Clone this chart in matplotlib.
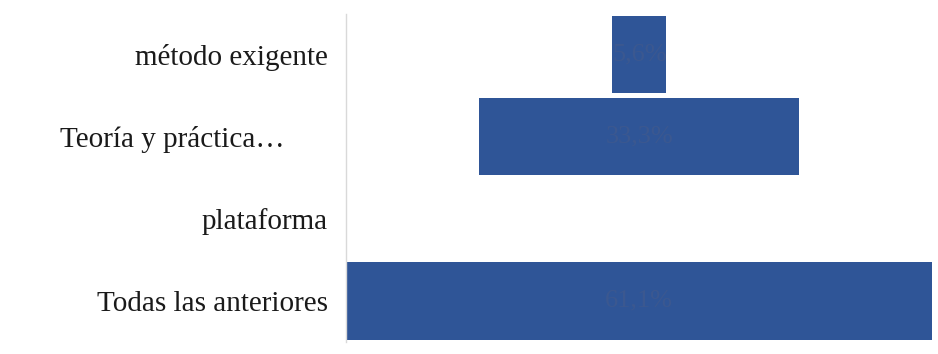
import matplotlib
matplotlib.use("Agg")
import matplotlib.pyplot as plt

categories = ["Todas las anteriores", "plataforma", "Teoría y práctica…      ", "método exigente"]
values = [61.1, 0.0, 33.3, 5.6]
labels = ["61,1%", "", "33,3%", "5,6%"]

bar_color = "#2F5597"
label_color = "#3b5890"

fig = plt.figure(figsize=(9.38, 3.54), dpi=100)
ax = fig.add_axes([0.369, 0.034, 0.625, 0.927])

y = range(len(categories))
lefts = [-v / 2 for v in values]
ax.barh(y, values, left=lefts, height=0.94, color=bar_color)
for yi, v, lab in zip(y, values, labels):
    if lab:
        ax.text(0, yi, lab, ha="center", va="center", color=label_color,
                fontsize=19, family="Liberation Serif")

vmax = max(values)
ax.set_xlim(-vmax / 2, vmax / 2)
ax.set_ylim(-0.5, len(categories) - 0.5)
ax.set_yticks(list(y))
ax.set_yticklabels(categories, family="Liberation Serif", fontsize=21, color="#1a1a1a")
ax.tick_params(axis="y", length=0, pad=13)
ax.set_xticks([])
for s in ["top", "right", "bottom"]:
    ax.spines[s].set_visible(False)
ax.spines["left"].set_color("#d9d9d9")
ax.spines["left"].set_linewidth(1.0)

fig.savefig("out.png", dpi=100)
